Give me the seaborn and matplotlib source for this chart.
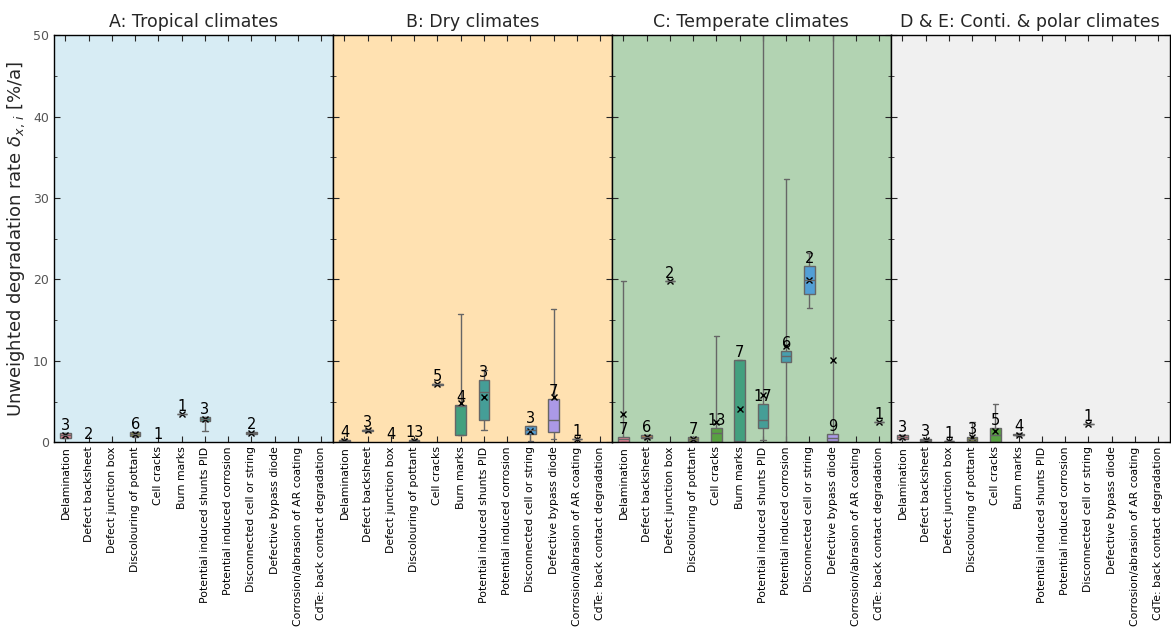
import numpy as np
import pandas as pd
import matplotlib.pyplot as plt
import seaborn as sns
from matplotlib.ticker import MultipleLocator

defects = [
    "Delamination", "Defect backsheet", "Defect junction box",
    "Discolouring of pottant", "Cell cracks", "Burn marks",
    "Potential induced shunts PID", "Potential induced corrosion",
    "Disconnected cell or string", "Defective bypass diode",
    "Corrosion/abrasion of AR coating", "CdTe: back contact degradation",
]
panel_titles = ["A: Tropical climates", "B: Dry climates",
                "C: Temperate climates", "D & E: Conti. & polar climates"]
panel_bg = ["#d7ecf4", "#ffe1b1", "#b2d3b2", "#f0f0f0"]

# five-number summaries (min, q1, median, q3, max), None = no data
trop_box = [(0.5, 0.55, 0.85, 1.1, 1.15), None, None, (0.7, 0.75, 1.0, 1.25, 1.3), None,
            (3.5,) * 5, (1.35, 2.6, 2.9, 3.05, 3.1), None, (1.0, 1.05, 1.1, 1.2, 1.25),
            None, None, None]
trop_mean = [0.85, None, None, 1.0, None, 3.5, 2.8, None, 1.1, None, None, None]
trop_n = [3, 2, None, 6, 1, 1, 3, None, 2, None, None, None]

dry_box = [(0.0, 0.05, 0.15, 0.3, 0.35), (1.3, 1.35, 1.45, 1.55, 1.6), None,
           (0.0, 0.05, 0.15, 0.3, 0.4), (7.0, 7.05, 7.1, 7.15, 7.2),
           (0.9, 0.95, 4.5, 4.6, 15.7), (1.5, 2.7, 6.2, 7.6, 8.9), None,
           (0.15, 1.0, 1.5, 1.95, 2.0), (0.45, 1.27, 2.7, 5.37, 16.4), (0.45,) * 5, None]
dry_mean = [0.2, 1.45, None, 0.2, 7.1, 4.8, 5.5, None, 1.4, 5.5, 0.45, None]
dry_n = [4, 3, 4, 13, 5, 4, 3, None, 3, 7, 1, None]

temp_box = [(0.0, 0.05, 0.35, 0.65, 19.8), (0.4, 0.5, 0.7, 0.85, 0.9), (19.8,) * 5,
            (0.1, 0.2, 0.4, 0.6, 0.7), (0.0, 0.05, 1.15, 1.76, 13.0),
            (0.0, 0.05, 0.2, 10.07, 10.07), (0.3, 1.7, 2.7, 4.75, 60.0),
            (0.0, 9.9, 10.6, 11.2, 32.3), (16.5, 18.2, 19.9, 21.6, 23.3),
            (0.0, 0.1, 0.5, 1.0, 60.0), None, (2.5,) * 5]
temp_mean = [3.5, 0.7, 19.8, 0.45, 2.5, 4.1, 5.8, 11.8, 19.9, 10.1, None, 2.5]
temp_n = [7, 6, 2, 7, 13, 7, 17, 6, 2, 9, None, 1]

cont_box = [(0.4, 0.45, 0.6, 0.85, 0.9), (0.1, 0.15, 0.25, 0.35, 0.4), (0.1,) * 5,
            (0.1, 0.2, 0.4, 0.7, 2.5), (0.0, 0.05, 0.85, 1.7, 4.7),
            (0.8, 0.85, 0.95, 1.05, 1.1), None, None, (2.2,) * 5, None, None, None]
cont_mean = [0.6, 0.25, 0.1, 0.65, 1.4, 0.95, None, None, 2.2, None, None, None]
cont_n = [3, 3, 1, 3, 5, 4, None, None, 1, None, None, None]

panels = [(trop_box, trop_mean, trop_n), (dry_box, dry_mean, dry_n),
          (temp_box, temp_mean, temp_n), (cont_box, cont_mean, cont_n)]

palette = sns.color_palette("husl", len(defects))

sns.set_style("ticks")
plt.rcParams["font.family"] = ["DejaVu Sans"]

fig, axes = plt.subplots(1, 4, figsize=(11.71, 6.3), dpi=100, sharey=True,
                         gridspec_kw={"wspace": 0})
fig.subplots_adjust(left=0.046, right=0.999, top=0.944, bottom=0.298)

for ax, title, bg, (box, mean, n) in zip(axes, panel_titles, panel_bg, panels):
    ax.set_facecolor(bg)
    rows = [(defects[i], v) for i, s in enumerate(box) if s is not None for v in s]
    df = pd.DataFrame(rows, columns=["defect", "rate"])
    sns.boxplot(data=df, x="defect", y="rate", hue="defect", order=defects,
                hue_order=defects, palette=palette, whis=(0, 100), width=0.45,
                showfliers=False, linecolor="#666666", linewidth=1, legend=False, ax=ax)

    mdf = pd.DataFrame([(defects[i], m) for i, m in enumerate(mean) if m is not None],
                       columns=["defect", "mean"])
    sns.pointplot(data=mdf, x="defect", y="mean", order=defects, color="black",
                  markers="x", linestyle="none", errorbar=None, markersize=4,
                  markeredgewidth=1, ax=ax)

    # sample counts sit on top of the box (upper quartile)
    for i, cnt in enumerate(n):
        if cnt is None:
            continue
        ypos = box[i][3] if box[i] is not None else 0
        ax.text(i, ypos, str(cnt), ha="center", va="bottom", fontsize=10.5, color="black")

    ax.set_title(title, fontsize=12.5, pad=6)
    ax.set_xlim(-0.5, len(defects) - 0.5)
    ax.set_ylim(0, 50)
    ax.set_xlabel("")
    ax.set_ylabel("")
    ax.set_xticks(range(len(defects)))
    ax.set_xticklabels(defects, rotation=90)
    ax.yaxis.set_major_locator(MultipleLocator(10))
    ax.yaxis.set_minor_locator(MultipleLocator(5))
    ax.tick_params(which="both", direction="in", top=True, right=True,
                   labelsize=9, labelcolor="#555555")
    ax.tick_params(axis="x", labelcolor="black", labelsize=7.8, pad=3)
    ax.tick_params(which="major", length=4)
    ax.tick_params(which="minor", length=2)
    for sp in ax.spines.values():
        sp.set_visible(True)
        sp.set_color("black")
        sp.set_linewidth(1)

axes[0].set_ylabel(r"Unweighted degradation rate $\delta_{x,\,i}$ [%/a]", fontsize=13)

fig.savefig("out.png", dpi=100)
